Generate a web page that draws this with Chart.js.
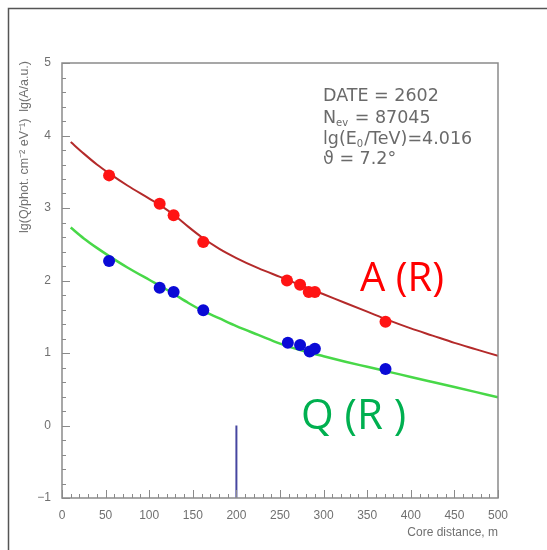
<!DOCTYPE html>
<html>
<head>
<meta charset="utf-8">
<script src="https://cdn.jsdelivr.net/npm/chart.js@4/dist/chart.umd.min.js"></script>
<style>
  html, body { margin: 0; padding: 0; background: #fff; }
  #wrap { width: 547px; height: 550px; position: relative; }
</style>
</head>
<body>
<div id="wrap"><canvas id="chart" width="547" height="550"></canvas></div>
<script>
const curveR = [10, 25, 40, 55, 75, 100, 115, 130, 145, 160, 180, 200, 225, 250, 275, 300, 325, 350, 375, 400, 425, 450, 475, 500];
const curveA = [3.91, 3.75, 3.60, 3.47, 3.31, 3.13, 3.02, 2.89, 2.74, 2.60, 2.44, 2.31, 2.17, 2.05, 1.93, 1.81, 1.69, 1.57, 1.45, 1.34, 1.24, 1.14, 1.05, 0.96];
const curveQ = [2.73, 2.58, 2.45, 2.33, 2.18, 2.01, 1.91, 1.80, 1.69, 1.59, 1.48, 1.37, 1.25, 1.13, 1.035, 0.955, 0.88, 0.81, 0.74, 0.67, 0.60, 0.53, 0.46, 0.39];

// measured detectors
const pointsAR = [54, 112, 128, 162, 258, 273, 283, 290, 371];
const pointsA  = [3.45, 3.06, 2.90, 2.53, 2.00, 1.94, 1.84, 1.84, 1.43];
const pointsQR = [54, 112, 128, 162, 259, 273, 284, 290, 371];
const pointsQ  = [2.27, 1.90, 1.84, 1.59, 1.14, 1.11, 1.02, 1.06, 0.78];

// core marker
const coreR = [200, 200];
const coreY = [-1, 0];

const infoLines = ['DATE = 2602', 'N|ev| = 87045', 'lg(E|0|/TeV)=4.016', '\u03D1 = 7.2\u00B0'];

const xy = (xs, ys) => xs.map((x, i) => ({ x: x, y: ys[i] }));

const axisGray = '#8a8a8a';
const textGray = '#707070';

// frame, inward ticks, texts
const decorations = {
    id: 'decorations',
    afterDraw(chart) {
        const ctx = chart.ctx;
        const a = chart.chartArea;
        const xs = chart.scales.x, ys = chart.scales.y;
        ctx.save();

        // outer slide frame
        ctx.strokeStyle = '#555';
        ctx.lineWidth = 1.5;
        ctx.beginPath();
        ctx.moveTo(8.5, 550);
        ctx.lineTo(8.5, 8.5);
        ctx.lineTo(547, 8.5);
        ctx.stroke();

        // plot frame
        ctx.strokeStyle = axisGray;
        ctx.lineWidth = 1.5;
        ctx.strokeRect(a.left, a.top, a.right - a.left, a.bottom - a.top);

        // ticks
        ctx.lineWidth = 1;
        ctx.beginPath();
        for (let v = 0; v <= 500; v += 10) {
            const px = Math.round(xs.getPixelForValue(v)) + 0.5;
            const len = v % 50 === 0 ? 8 : 4;
            ctx.moveTo(px, a.bottom);
            ctx.lineTo(px, a.bottom - len);
        }
        for (let k = -5; k <= 25; k++) {
            const v = k / 5;
            const py = Math.round(ys.getPixelForValue(v)) + 0.5;
            const len = k % 5 === 0 ? 8 : 4;
            ctx.moveTo(a.left, py);
            ctx.lineTo(a.left + len, py);
        }
        ctx.stroke();

        // axis titles
        ctx.fillStyle = textGray;
        ctx.font = '12px "Liberation Sans", Arial, sans-serif';
        ctx.textAlign = 'right';
        ctx.textBaseline = 'middle';
        ctx.fillText('Core distance, m', a.right, 533);

        ctx.save();
        ctx.translate(25, 147);
        ctx.rotate(-Math.PI / 2);
        ctx.textAlign = 'center';
        ctx.font = '12.5px "Liberation Sans", Arial, sans-serif';
        ctx.fillText('lg(Q/phot. cm\u207B\u00B2 eV\u207B\u00B9)  lg(A/a.u.)', 0, 0);
        ctx.restore();

        // info block, "|" toggles subscript
        const baselines = [101, 123, 144, 164];
        ctx.textAlign = 'left';
        ctx.textBaseline = 'alphabetic';
        ctx.fillStyle = '#6a6a6a';
        infoLines.forEach((line, i) => {
            let x = 323;
            line.split('|').forEach((part, j) => {
                const sub = j % 2 === 1;
                ctx.font = (sub ? '10px' : '17.5px') + ' "DejaVu Sans", sans-serif';
                ctx.fillText(part, x, baselines[i] + (sub ? 3 : 0));
                x += ctx.measureText(part).width + (sub ? 1 : 0);
            });
        });

        // curve labels
        ctx.font = '40px "Open Sans", sans-serif';
        ctx.fillStyle = '#ff0000';
        ctx.fillText('A (R)', 360, 291);
        ctx.font = '42px "Open Sans", sans-serif';
        ctx.fillStyle = '#00b050';
        ctx.fillText('Q (R )', 301, 429);

        ctx.restore();
    }
};

new Chart(document.getElementById('chart'), {
    type: 'scatter',
    data: {
        datasets: [
            { data: xy(pointsAR, pointsA), backgroundColor: '#ff1414', borderWidth: 0, pointRadius: 6, order: 1 },
            { data: xy(pointsQR, pointsQ), backgroundColor: '#0a0ad6', borderWidth: 0, pointRadius: 6, order: 1 },
            { data: xy(curveR, curveA), showLine: true, borderColor: '#b42a2a', borderWidth: 2, pointRadius: 0, cubicInterpolationMode: 'monotone', order: 2 },
            { data: xy(curveR, curveQ), showLine: true, borderColor: '#48d848', borderWidth: 2.5, pointRadius: 0, cubicInterpolationMode: 'monotone', order: 2 },
            { data: xy(coreR, coreY), showLine: true, borderColor: '#4646a0', borderWidth: 2, pointRadius: 0, order: 3 }
        ]
    },
    options: {
        responsive: false,
        animation: false,
        events: [],
        layout: { padding: { left: 30, right: 49, top: 63, bottom: 0 } },
        plugins: { legend: { display: false }, tooltip: { enabled: false } },
        scales: {
            x: {
                type: 'linear', min: 0, max: 500,
                grid: { display: false }, border: { display: false },
                ticks: { stepSize: 50, padding: 2, color: textGray, font: { family: '"Liberation Sans", Arial, sans-serif', size: 12 } },
                afterFit: s => { s.height = 52; }
            },
            y: {
                type: 'linear', min: -1, max: 5,
                grid: { display: false }, border: { display: false },
                ticks: { stepSize: 1, padding: 3, color: textGray, font: { family: '"Liberation Sans", Arial, sans-serif', size: 12 },
                         callback: v => v < 0 ? '\u2212' + Math.abs(v) : v },
                afterFit: s => { s.width = 32; }
            }
        }
    },
    plugins: [decorations]
});
</script>
</body>
</html>
